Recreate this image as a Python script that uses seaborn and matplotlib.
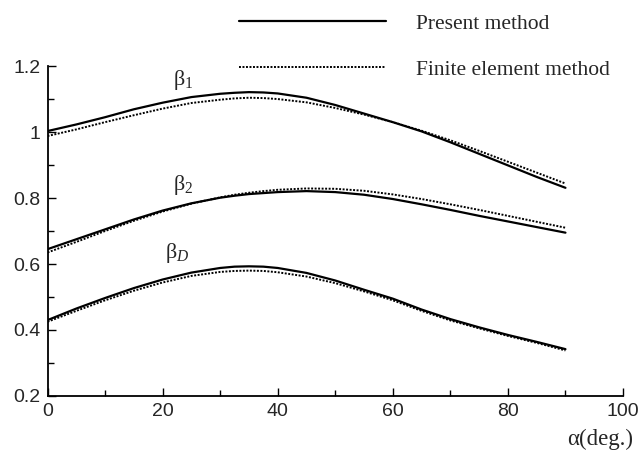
import numpy as np
import pandas as pd
import matplotlib
matplotlib.use("Agg")
import matplotlib.pyplot as plt
import seaborn as sns
from matplotlib.ticker import MultipleLocator
from matplotlib.transforms import ScaledTranslation

# alpha (deg.)
alpha = [0, 5, 10, 15, 20, 25, 30, 32.5, 35, 37.5, 40, 45, 50, 55, 60, 65, 70, 75, 80, 85, 90]

# present method (solid)
b1_present = [1.003, 1.023, 1.045, 1.069, 1.089, 1.106, 1.116, 1.119, 1.121, 1.120, 1.117,
              1.104, 1.082, 1.056, 1.030, 1.002, 0.969, 0.934, 0.899, 0.864, 0.831]
b2_present = [0.645, 0.675, 0.705, 0.735, 0.762, 0.784, 0.801, 0.807, 0.812, 0.815, 0.818,
              0.821, 0.818, 0.810, 0.797, 0.781, 0.764, 0.746, 0.729, 0.712, 0.695]
bd_present = [0.430, 0.465, 0.497, 0.527, 0.553, 0.574, 0.588, 0.592, 0.593, 0.592, 0.588,
              0.573, 0.550, 0.522, 0.495, 0.462, 0.433, 0.408, 0.385, 0.364, 0.342]

# finite element method (dotted)
b1_fem = [0.988, 1.008, 1.030, 1.051, 1.071, 1.088, 1.098, 1.102, 1.104, 1.103, 1.100,
          1.090, 1.073, 1.053, 1.030, 1.004, 0.975, 0.943, 0.910, 0.877, 0.844]
b2_fem = [0.635, 0.667, 0.700, 0.731, 0.759, 0.783, 0.802, 0.810, 0.816, 0.821, 0.825,
          0.829, 0.828, 0.822, 0.811, 0.797, 0.781, 0.764, 0.746, 0.728, 0.710]
bd_fem = [0.425, 0.458, 0.490, 0.519, 0.544, 0.564, 0.576, 0.579, 0.580, 0.579, 0.575,
          0.562, 0.542, 0.517, 0.490, 0.458, 0.429, 0.405, 0.382, 0.361, 0.338]

curve_labels = ["β$_{1}$", "β$_{2}$", "β$_{D}$"]
label_pos = [(23.5, 1.157), (23.5, 0.838), (22.5, 0.633)]

sns.set_theme(style="ticks")
plt.rcParams["font.family"] = ["Liberation Sans", "DejaVu Sans"]
plt.rcParams["mathtext.fontset"] = "custom"
plt.rcParams["mathtext.rm"] = "Liberation Serif"
plt.rcParams["mathtext.it"] = "Liberation Serif:italic"

fig = plt.figure(figsize=(6.38, 4.62), dpi=100)
ax = fig.add_axes([0.0745, 0.1429, 0.902, 0.7141])

pairs = [(b1_present, b1_fem), (b2_present, b2_fem), (bd_present, bd_fem)]
for i, (yp, yf) in enumerate(pairs):
    sns.lineplot(x=alpha, y=yp, ax=ax, color="black", linewidth=1.6,
                 label="Present method" if i == 0 else None, legend=False)
    sns.lineplot(x=alpha, y=yf, ax=ax, color="black", linewidth=1.4,
                 linestyle=(0, (1, 0.8)),
                 label="Finite element method" if i == 0 else None, legend=False)

for lab, (lx, ly) in zip(curve_labels, label_pos):
    ax.text(lx, ly, lab, fontsize=16, family="Liberation Serif",
            ha="center", va="center")

ax.set_xlim(0, 100)
ax.set_ylim(0.2, 1.2)
ax.xaxis.set_major_locator(MultipleLocator(20))
ax.xaxis.set_minor_locator(MultipleLocator(10))
ax.yaxis.set_minor_locator(MultipleLocator(0.1))
ax.set_yticks([0.2, 0.4, 0.6, 0.8, 1.0, 1.2])
ax.set_yticklabels(["0.2", "0.4", "0.6", "0.8", "1", "1.2"])
ax.tick_params(which="major", direction="in", length=6, width=1, labelsize=14, pad=5, color="black")
ax.tick_params(which="minor", direction="in", length=4, width=1, color="black")
for s in ["top", "right"]:
    ax.spines[s].set_visible(False)
for s in ["left", "bottom"]:
    ax.spines[s].set_color("black")
    ax.spines[s].set_linewidth(1.3)

# keep the "100" label inside the figure
fig.canvas.draw()
last = ax.get_xticklabels()[-1]
last.set_transform(last.get_transform() + ScaledTranslation(-3 / 100, 0, fig.dpi_scale_trans))

ax.set_xlabel("")
fig.text(0.992, 0.048, "α(deg.)", family="Liberation Serif", fontsize=16.5,
         ha="right", va="center")

handles, labels = ax.get_legend_handles_labels()
fig.legend(handles, labels, loc="upper left", bbox_to_anchor=(0.345, 1.012),
           frameon=False, handlelength=6.8, handletextpad=1.4, labelspacing=1.2,
           prop={"family": "Liberation Serif", "size": 15.5})

fig.savefig("out.png", dpi=100)
